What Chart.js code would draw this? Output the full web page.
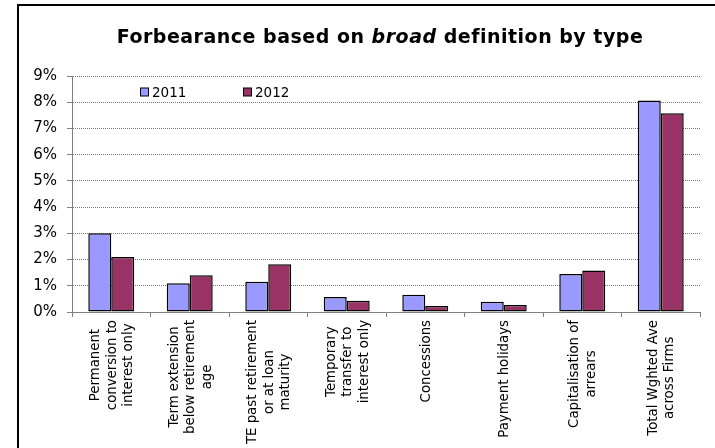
<!DOCTYPE html>
<html>
<head>
<meta charset="utf-8">
<script src="https://cdn.jsdelivr.net/npm/chart.js@4.4.0/dist/chart.umd.min.js"></script>
<style>
    html, body { margin: 0; padding: 0; background: #fff; overflow: hidden; }
</style>
</head>
<body>
<canvas id="bar-forbearance" width="715" height="448"></canvas>
<script>
// forbearance share by type, in percent
const categories = [
    ["Permanent", "conversion to", "interest only"],
    ["Term extension", "below retirement", "age"],
    ["TE past retirement", "or at loan", "maturity"],
    ["Temporary", "transfer to", "interest only"],
    ["Concessions"],
    ["Payment holidays"],
    ["Capitalisation of", "arrears"],
    ["Total Wghted Ave", "across Firms"]
];
const seriesNames = ["2011", "2012"];
const values2011 = [3.0, 1.1, 1.15, 0.57, 0.66, 0.39, 1.45, 8.07];
const values2012 = [2.1, 1.4, 1.82, 0.43, 0.23, 0.27, 1.58, 7.58];
const yMax = 9;

const FONT = "'DejaVu Sans', Verdana, sans-serif";

// outer frame (left + top edges) and mixed style title
const framePlugin = {
    id: 'frameTitle',
    afterDraw(chart) {
        const ctx = chart.ctx;
        ctx.save();
        ctx.strokeStyle = '#000';
        ctx.lineWidth = 2;
        ctx.beginPath();
        ctx.moveTo(18, chart.height);
        ctx.lineTo(18, 5);
        ctx.lineTo(chart.width, 5);
        ctx.stroke();

        const parts = [
            ['Forbearance based on ', 'bold 19px ' + FONT],
            ['broad', 'italic bold 19px ' + FONT],
            [' definition by type', 'bold 19px ' + FONT]
        ];
        ctx.letterSpacing = '0.5px';
        let total = 0;
        parts.forEach(p => { ctx.font = p[1]; total += ctx.measureText(p[0]).width; });
        let x = 380 - total / 2;
        ctx.fillStyle = '#000';
        ctx.textBaseline = 'alphabetic';
        ctx.textAlign = 'left';
        parts.forEach(p => {
            ctx.font = p[1];
            ctx.fillText(p[0], x, 43);
            x += ctx.measureText(p[0]).width;
        });
        ctx.restore();
    }
};

// rotated, centred multi-line category labels under the x axis
const catLabelPlugin = {
    id: 'catLabels',
    afterDraw(chart) {
        const ctx = chart.ctx;
        const xs = chart.scales.x;
        const top = chart.chartArea.bottom + 8;
        const lineH = 16.5;
        ctx.save();
        ctx.font = '13.3px ' + FONT;
        ctx.fillStyle = '#000';
        ctx.textAlign = 'center';
        ctx.textBaseline = 'middle';
        categories.forEach((lines, i) => {
            const cx = xs.getPixelForValue(i) + 1;
            const maxW = Math.max(...lines.map(l => ctx.measureText(l).width));
            lines.forEach((line, j) => {
                const off = (j - (lines.length - 1) / 2) * lineH;
                ctx.save();
                ctx.translate(cx + off, top + maxW / 2);
                ctx.rotate(-Math.PI / 2);
                ctx.fillText(line, 0, 0);
                ctx.restore();
            });
        });
        ctx.restore();
    }
};

// legend sitting inside the plot area
const legendPlugin = {
    id: 'innerLegend',
    afterDraw(chart) {
        const ctx = chart.ctx;
        const area = chart.chartArea;
        const y = area.top + 16.5;
        const starts = [area.left + 68, area.left + 171];
        ctx.save();
        ctx.font = '13.5px ' + FONT;
        ctx.textBaseline = 'middle';
        ctx.textAlign = 'left';
        chart.data.datasets.forEach((ds, i) => {
            const x = starts[i];
            ctx.fillStyle = ds.backgroundColor;
            ctx.fillRect(x + 0.5, y - 4.5, 8, 8);
            ctx.strokeStyle = '#000';
            ctx.lineWidth = 1;
            ctx.strokeRect(x + 0.5, y - 4.5, 8, 8);
            ctx.fillStyle = '#000';
            ctx.fillText(ds.label, x + 12, y + 0.5);
        });
        ctx.restore();
    }
};

new Chart(document.getElementById('bar-forbearance'), {
    type: 'bar',
    data: {
        labels: categories,
        datasets: [
            {
                label: seriesNames[0],
                data: values2011,
                backgroundColor: '#9999FF',
                borderColor: '#000',
                borderWidth: 1.5,
                borderSkipped: false
            },
            {
                label: seriesNames[1],
                data: values2012,
                backgroundColor: '#993366',
                borderColor: '#000',
                borderWidth: 1.5,
                borderSkipped: false
            }
        ]
    },
    options: {
        responsive: false,
        animation: false,
        categoryPercentage: 0.585,
        barPercentage: 1,
        layout: { padding: { top: 76, right: 15, left: 0, bottom: 0 } },
        plugins: {
            legend: { display: false },
            title: { display: false },
            tooltip: { enabled: false }
        },
        scales: {
            x: {
                afterFit: s => { s.height = 136; },
                ticks: { display: false },
                grid: {
                    drawOnChartArea: false,
                    drawTicks: true,
                    tickLength: 5,
                    tickColor: '#808080',
                    offset: true
                },
                border: { color: '#808080', width: 1 }
            },
            y: {
                min: 0,
                max: yMax,
                afterFit: s => { s.width = 72; },
                ticks: {
                    stepSize: 1,
                    padding: 10,
                    color: '#000',
                    font: { family: FONT, size: 15 },
                    callback: v => v + '%'
                },
                grid: {
                    color: '#7a7a7a',
                    lineWidth: 1,
                    tickLength: 5,
                    tickColor: '#808080'
                },
                border: { color: '#808080', width: 1, dash: [1, 1] }
            }
        }
    },
    plugins: [framePlugin, catLabelPlugin, legendPlugin]
});
</script>
</body>
</html>
